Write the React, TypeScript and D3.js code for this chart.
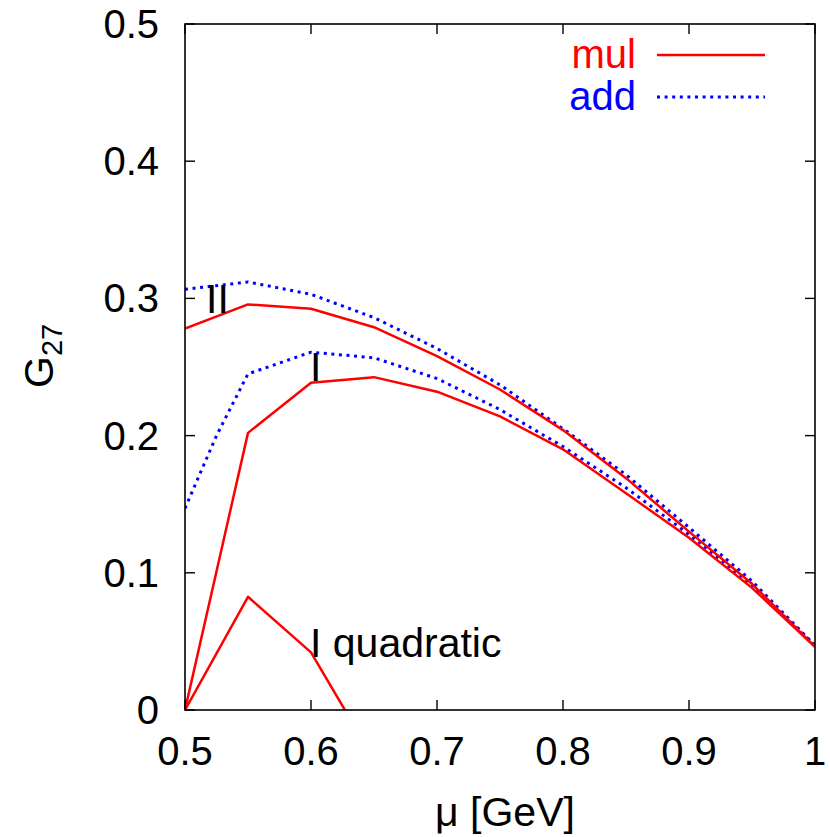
import React from "react";
import * as d3 from "d3";

const muX = [0.5, 0.55, 0.6, 0.65, 0.7, 0.75, 0.8, 0.85, 0.9, 0.95, 1.0];
const mulII = [0.278, 0.2956, 0.2925, 0.279, 0.258, 0.2336, 0.204, 0.169, 0.13, 0.092, 0.046];
const addII = [0.3066, 0.312, 0.303, 0.286, 0.2635, 0.237, 0.205, 0.1715, 0.133, 0.094, 0.047];
const mulI = [0.0, 0.202, 0.2385, 0.2426, 0.232, 0.214, 0.19, 0.158, 0.1255, 0.089, 0.046];
const addIX = [0.5, 0.525, 0.55, 0.6, 0.65, 0.7, 0.75, 0.8, 0.85, 0.9, 0.95, 1.0];
const addI = [0.147, 0.2, 0.245, 0.2608, 0.2567, 0.2416, 0.219, 0.192, 0.162, 0.128, 0.091, 0.047];
const quadX = [0.5, 0.55, 0.6, 0.65];
const quadI = [0.0, 0.0825, 0.042, -0.036];

const xTicks = [0.5, 0.6, 0.7, 0.8, 0.9, 1.0];
const xTickLabels = ["0.5", "0.6", "0.7", "0.8", "0.9", "1"];
const yTicks = [0, 0.1, 0.2, 0.3, 0.4, 0.5];
const yTickLabels = ["0", "0.1", "0.2", "0.3", "0.4", "0.5"];

const FONT = "'Liberation Sans', Arial, Helvetica, sans-serif";
const RED = "#ff0000";
const BLUE = "#0000ff";

export default function App() {
  const L = 185, R = 815, T = 24, B = 710;
  const x = d3.scaleLinear().domain([0.5, 1]).range([L, R]);
  const y = d3.scaleLinear().domain([0, 0.5]).range([B, T]);
  const line = (xs: number[], ys: number[]) =>
    d3.line<number>().x((_, i) => x(xs[i])).y((d) => y(d))(ys) || "";

  const solid = { fill: "none", stroke: RED, strokeWidth: 2.5, strokeLinejoin: "round" as const };
  const dotted = { fill: "none", stroke: BLUE, strokeWidth: 3, strokeDasharray: "3 4.6" };
  const tick = 10;

  return (
    <svg width={830} height={837} style={{ position: "absolute", left: 0, top: 0, background: "#fff" }} fontFamily={FONT}>
      <defs>
        <clipPath id="plotclip">
          <rect x={L} y={T} width={R - L} height={B - T} />
        </clipPath>
      </defs>
      <rect x={0} y={0} width={830} height={837} fill="#fff" />
      <g clipPath="url(#plotclip)">
        <path d={line(addIX, addI)} {...dotted} />
        <path d={line(muX, addII)} {...dotted} />
        <path d={line(muX, mulII)} {...solid} />
        <path d={line(muX, mulI)} {...solid} />
        <path d={line(quadX, quadI)} {...solid} />
      </g>
      {/* frame */}
      <rect x={L} y={T} width={R - L} height={B - T} fill="none" stroke="#000" strokeWidth={1.6} />
      {xTicks.map((t, i) => (
        <g key={"x" + i}>
          <line x1={x(t)} x2={x(t)} y1={B} y2={B - tick} stroke="#000" strokeWidth={1.4} />
          <line x1={x(t)} x2={x(t)} y1={T} y2={T + tick} stroke="#000" strokeWidth={1.4} />
          <text x={x(t)} y={765} fontSize={40} textAnchor="middle" fill="#000">
            {xTickLabels[i]}
          </text>
        </g>
      ))}
      {yTicks.map((t, i) => (
        <g key={"y" + i}>
          <line x1={L} x2={L + tick} y1={y(t)} y2={y(t)} stroke="#000" strokeWidth={1.4} />
          <line x1={R} x2={R - tick} y1={y(t)} y2={y(t)} stroke="#000" strokeWidth={1.4} />
          <text x={159} y={y(t) + 14} fontSize={40} textAnchor="end" fill="#000">
            {yTickLabels[i]}
          </text>
        </g>
      ))}
      {/* axis titles */}
      <text x={505} y={826} fontSize={41} textAnchor="middle" fill="#000">
        μ [GeV]
      </text>
      <g transform="translate(53,388) rotate(-90)">
        <text x={0} y={0} fontSize={41} fill="#000">
          G<tspan fontSize={29} dy={9}>27</tspan>
        </text>
      </g>
      {/* curve labels */}
      <text x={206} y={313} fontSize={41} fill="#000">II</text>
      <text x={310} y={381} fontSize={41} fill="#000">I</text>
      <text x={310} y={657} fontSize={41} fill="#000">I quadratic</text>
      {/* legend */}
      <text x={636} y={68} fontSize={40} textAnchor="end" fill={RED}>mul</text>
      <line x1={657} x2={765} y1={55} y2={55} stroke={RED} strokeWidth={2.5} />
      <text x={636} y={110} fontSize={40} textAnchor="end" fill={BLUE}>add</text>
      <line x1={657} x2={765} y1={97} y2={97} stroke={BLUE} strokeWidth={3} strokeDasharray="3 4.6" />
    </svg>
  );
}
